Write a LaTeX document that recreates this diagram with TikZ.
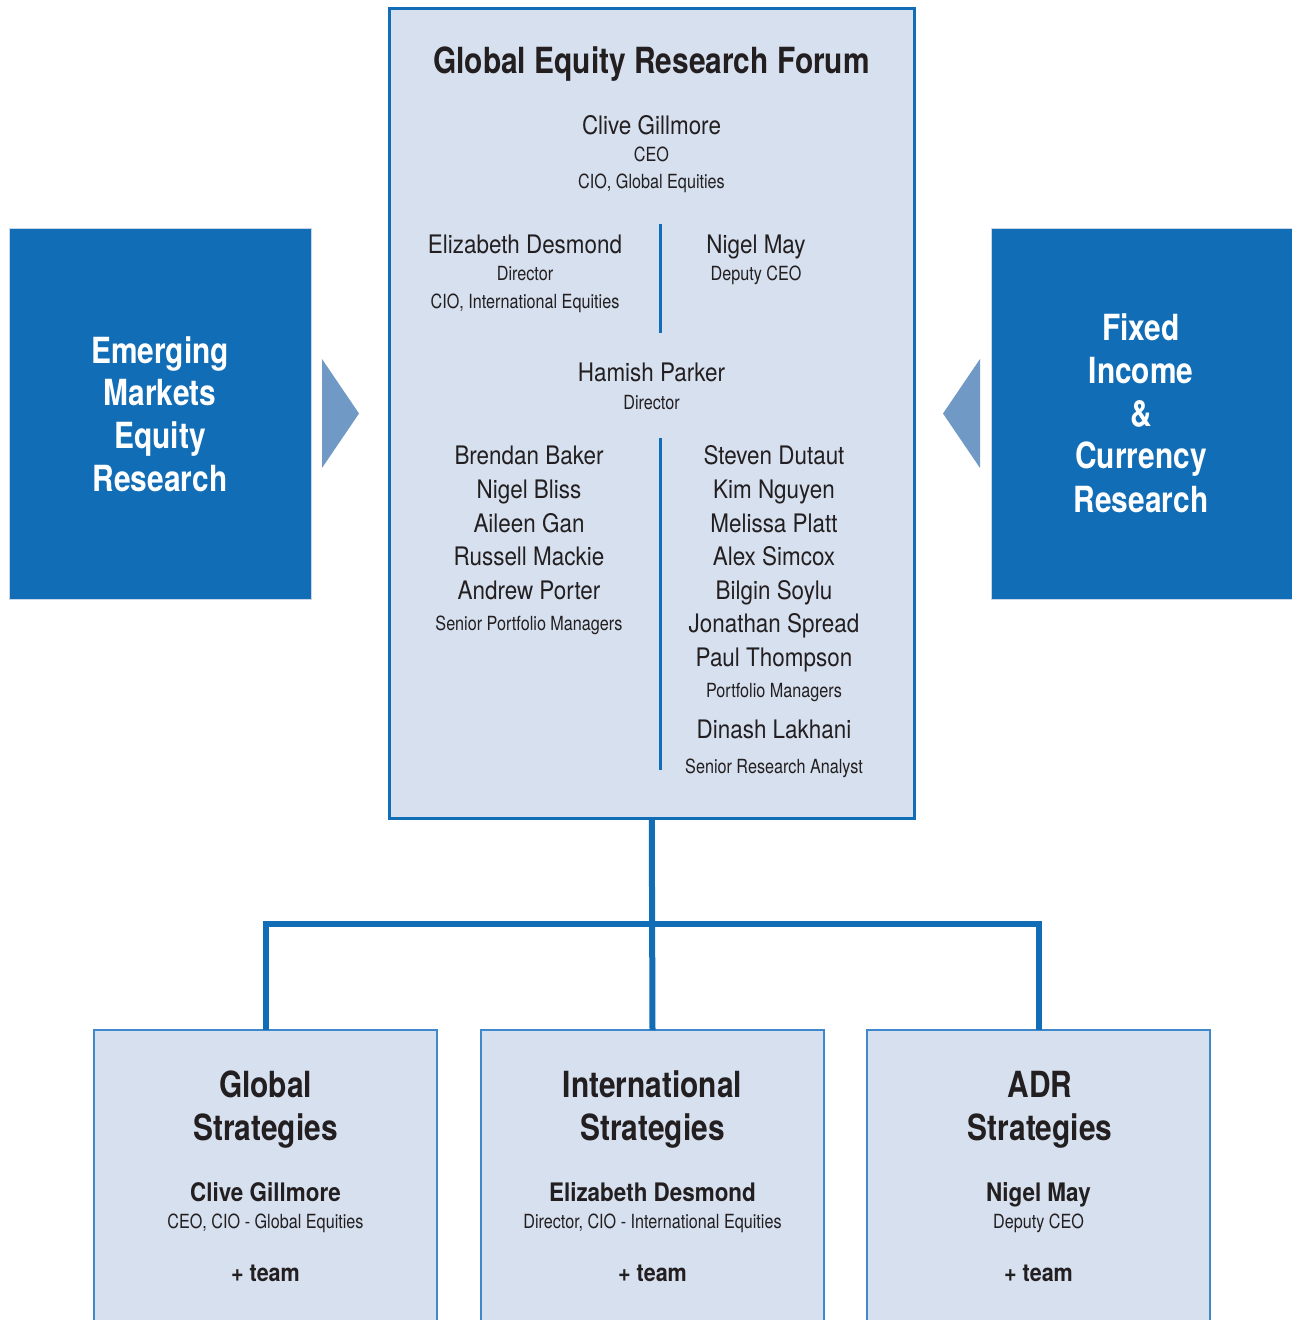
\documentclass[tikz,border=0pt]{standalone}
\usepackage{fontspec}
\setmainfont{TeX Gyre Heros}[FakeStretch=0.83]
\newfontfamily\namefont{TeX Gyre Heros}[FakeStretch=0.88]
\definecolor{dblue}{HTML}{116DB6}
\definecolor{lfill}{HTML}{D6E0EF}
\definecolor{tri}{HTML}{7099C5}
\definecolor{bbord}{HTML}{3F88CC}
\definecolor{sbord}{HTML}{C9D6E8}
\definecolor{txt}{HTML}{231F20}
\tikzset{
  big/.style={font=\fontsize{36}{36}\selectfont\bfseries, text=txt, anchor=base},
  bigw/.style={font=\fontsize{36}{36}\selectfont\bfseries, text=white, anchor=base},
  nm/.style={font=\namefont\fontsize{25.5}{25}\selectfont, text=txt, anchor=base},
  nmb/.style={font=\namefont\fontsize{25.5}{25}\selectfont\bfseries, text=txt, anchor=base},
  rl/.style={font=\fontsize{19.5}{20}\selectfont, text=txt, anchor=base},
  team/.style={font=\namefont\fontsize{24.5}{24}\selectfont\bfseries, text=txt, anchor=base},
  conn/.style={draw=dblue, line width=6pt},
  divider/.style={draw=dblue, line width=3pt},
  sidebox/.style={fill=dblue, draw=sbord, line width=1pt, anchor=north west},
  botbox/.style={fill=lfill, draw=bbord, line width=2pt, anchor=north, minimum width=343pt, minimum height=330pt},
}
\begin{document}
\begin{tikzpicture}[x=1pt,y=-1pt, every node/.style={inner sep=0pt, outer sep=0pt}]
\useasboundingbox (0,0) rectangle (1291,1320);
\fill[white] (0,0) rectangle (1291,1320);

% main box
\node[fill=lfill, draw=dblue, line width=3pt, anchor=north west, minimum width=524.5pt, minimum height=810pt] (main) at (389.5,8.5) {};

% side boxes
\node[sidebox, minimum width=302pt, minimum height=371pt] (em) at (9,228) {};
\node[sidebox, minimum width=302pt, minimum height=371pt] (fi) at (991,228) {};
\fill[tri] (322,359) -- (359,413.5) -- (322,468) -- cycle;
\fill[tri] (980,359) -- (943,413.5) -- (980,468) -- cycle;

% bottom boxes
\node[botbox] (gs) at (265.5,1030) {};
\node[botbox] (is) at (652.5,1030) {};
\node[botbox] (adr) at (1038.5,1030) {};

% connectors
\coordinate (j) at (652,924);
\draw[conn] (main.south) -- (is.north);
\draw[conn] (gs.north) |- (j) -| (adr.north);

% dividers
\coordinate (d1a) at (660,224); \coordinate (d1b) at (660,333);
\coordinate (d2a) at (660,438); \coordinate (d2b) at (660,770);
\draw[divider] (d1a) -- (d1b);
\draw[divider] (d2a) -- (d2b);

% main box text
\node[big] (t0) at (651.5,73) {Global Equity Research Forum};
\node[nm] (t1) at (651.5,134) {Clive Gillmore};
\node[rl] (t2) at (651.5,161) {CEO};
\node[rl] (t3) at (651.5,188) {CIO, Global Equities};
\node[nm] (t4) at (525,253) {Elizabeth Desmond};
\node[rl] (t5) at (525,280) {Director};
\node[rl] (t6) at (525,308) {CIO, International Equities};
\node[nm] (t7) at (756,253) {Nigel May};
\node[rl] (t8) at (756,280) {Deputy CEO};
\node[nm] (t9) at (651.5,381) {Hamish Parker};
\node[rl] (t10) at (651.5,409) {Director};

\node[nm] (l1) at (529,464) {Brendan Baker};
\node[nm] (l2) at (529,498) {Nigel Bliss};
\node[nm] (l3) at (529,532) {Aileen Gan};
\node[nm] (l4) at (529,565) {Russell Mackie};
\node[nm] (l5) at (529,599) {Andrew Porter};
\node[rl] (l6) at (529,630) {Senior Portfolio Managers};

\node[nm] (r1) at (774,464) {Steven Dutaut};
\node[nm] (r2) at (774,498) {Kim Nguyen};
\node[nm] (r3) at (774,532) {Melissa Platt};
\node[nm] (r4) at (774,565) {Alex Simcox};
\node[nm] (r5) at (774,599) {Bilgin Soylu};
\node[nm] (r6) at (774,632) {Jonathan Spread};
\node[nm] (r7) at (774,666) {Paul Thompson};
\node[rl] (r8) at (774,697) {Portfolio Managers};
\node[nm] (r9) at (774,738) {Dinash Lakhani};
\node[rl] (r10) at (774,773) {Senior Research Analyst};

% side box text
\node[bigw] (e1) at (160,363) {Emerging};
\node[bigw] (e2) at (160,405) {Markets};
\node[bigw] (e3) at (160,448) {Equity};
\node[bigw] (e4) at (160,491) {Research};
\node[bigw] (f1) at (1141,340) {Fixed};
\node[bigw] (f2) at (1141,383) {Income};
\node[bigw] (f3) at (1141,426) {\&};
\node[bigw] (f4) at (1141,468) {Currency};
\node[bigw] (f5) at (1141,512) {Research};

% bottom box text
\node[big] (g1) at (265.5,1097) {Global};
\node[big] (g2) at (265.5,1140) {Strategies};
\node[nmb] (g3) at (265.5,1201) {Clive Gillmore};
\node[rl] (g4) at (265.5,1228) {CEO, CIO - Global Equities};
\node[team] (g5) at (265.5,1281) {+ team};

\node[big] (i1) at (652.5,1097) {International};
\node[big] (i2) at (652.5,1140) {Strategies};
\node[nmb] (i3) at (652.5,1201) {Elizabeth Desmond};
\node[rl] (i4) at (652.5,1228) {Director, CIO - International Equities};
\node[team] (i5) at (652.5,1281) {+ team};

\node[big] (a1) at (1040,1097) {ADR};
\node[big] (a2) at (1040,1140) {Strategies};
\node[nmb] (a3) at (1038.5,1201) {Nigel May};
\node[rl] (a4) at (1038.5,1228) {Deputy CEO};
\node[team] (a5) at (1038.5,1281) {+ team};
\end{tikzpicture}
\end{document}
